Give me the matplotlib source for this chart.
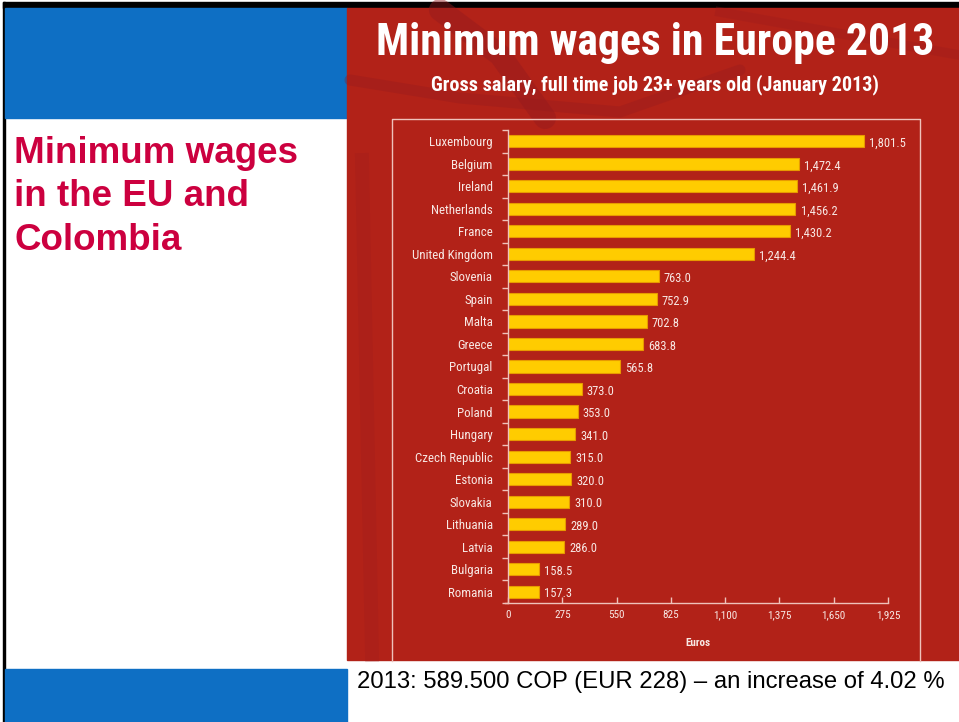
import numpy as np
import matplotlib
matplotlib.use('Agg')
import matplotlib.pyplot as plt
from matplotlib.patches import Rectangle

countries = ['Luxembourg', 'Belgium', 'Ireland', 'Netherlands', 'France', 'United Kingdom',
             'Slovenia', 'Spain', 'Malta', 'Greece', 'Portugal', 'Croatia', 'Poland',
             'Hungary', 'Czech Republic', 'Estonia', 'Slovakia', 'Lithuania', 'Latvia',
             'Bulgaria', 'Romania']
wages = [1801.5, 1472.4, 1461.9, 1456.2, 1430.2, 1244.4, 763.0, 752.9, 702.8, 683.8,
         565.8, 373.0, 353.0, 341.0, 315.0, 320.0, 310.0, 289.0, 286.0, 158.5, 157.3]
x_ticks = [0, 275, 550, 825, 1100, 1375, 1650, 1925]

RED = '#B22218'
DARK_RED = '#951A1E'
BLUE = '#0E6FC4'
LABEL = '#F8E8E4'
LINE = '#EFC2BB'
COND = ['Roboto Condensed', 'DejaVu Sans']
ARIAL = ['Liberation Sans', 'DejaVu Sans']
W, H = 959, 722

fig = plt.figure(figsize=(W / 100, H / 100), dpi=100)

# slide background, drawn in pixel coords
bg = fig.add_axes([0, 0, 1, 1])
bg.set_xlim(0, W)
bg.set_ylim(H, 0)
bg.axis('off')
bg.add_patch(Rectangle((0, 0), W, H, color='white'))
bg.add_patch(Rectangle((3, 2), W, 6, color='black'))
bg.add_patch(Rectangle((3, 2), 2, H, color='black'))
bg.add_patch(Rectangle((5, 8), 342, 110, color=BLUE))
bg.add_patch(Rectangle((5, 669), 342, 60, color=BLUE))
bg.add_patch(Rectangle((347, 8), W - 347, 652, color=RED))

# faint brush strokes behind the title
bg.plot([440, 500, 545], [10, 55, 118], color=DARK_RED, lw=16, alpha=0.45, solid_capstyle='round')
bg.plot([350, 460, 620, 740], [80, 98, 112, 70], color=DARK_RED, lw=8, alpha=0.35, solid_capstyle='round')
bg.plot([720, 959], [12, 55], color=DARK_RED, lw=7, alpha=0.25)
bg.plot([362, 372], [160, 655], color=DARK_RED, lw=10, alpha=0.2)

# plot frame (open at the bottom)
bg.plot([392, 392, 920, 920], [661, 119, 119, 661], color=LINE, lw=1)

bg.text(655, 43, 'Minimum wages in Europe 2013', color='white', fontsize=31.5,
        fontweight='bold', family=COND, ha='center', va='center')
bg.text(655, 85, 'Gross salary, full time job 23+ years old (January 2013)', color='white',
        fontsize=14.5, fontweight='bold', family=COND, ha='center', va='center')

bg.text(14, 136, 'Minimum wages\nin the EU and\nColombia', color='#CC003F', fontsize=26.5,
        fontweight='bold', family=ARIAL, ha='left', va='top', linespacing=1.31)
bg.text(357, 682, '2013: 589.500 COP (EUR 228) \u2013 an increase of 4.02 %', color='black',
        fontsize=17.2, family=ARIAL, ha='left', va='center')

# bar chart
ax = fig.add_axes([508 / W, 1 - 603 / H, 380 / W, 473 / H])
ax.set_facecolor('none')
y = np.arange(len(countries))
ax.barh(y, wages, height=0.54, color='#FFCC00', edgecolor='#E89A00', linewidth=0.8)
for yi, v in zip(y, wages):
    ax.text(v + 26, yi + 0.1, f'{v:,.1f}', color=LABEL, fontsize=9,
            family=COND, va='center', ha='left')

ax.set_xlim(0, 1925)
ax.set_ylim(len(countries) - 0.5, -0.5)
ax.set_yticks(y)
ax.set_yticklabels(countries, family=COND, fontsize=9.3, color=LABEL)
ax.set_yticks(np.arange(-0.5, len(countries), 1), minor=True)
ax.tick_params(axis='y', which='major', length=0, pad=11)
ax.tick_params(axis='y', which='minor', length=4, color=LINE, width=1)
ax.set_xticks(x_ticks)
ax.set_xticklabels([f'{t:,}' for t in x_ticks], family=COND, fontsize=8, color=LABEL)
ax.tick_params(axis='x', length=4, color=LINE, width=1, direction='in', pad=5)
for s in ['top', 'right']:
    ax.spines[s].set_visible(False)
for s in ['left', 'bottom']:
    ax.spines[s].set_color(LINE)
    ax.spines[s].set_linewidth(1)
ax.spines['bottom'].set_bounds(-15, 1925)
ax.set_xlabel('Euros', color=LABEL, fontsize=8, fontweight='bold', family=COND, labelpad=13)

fig.savefig('out.png', dpi=100)
